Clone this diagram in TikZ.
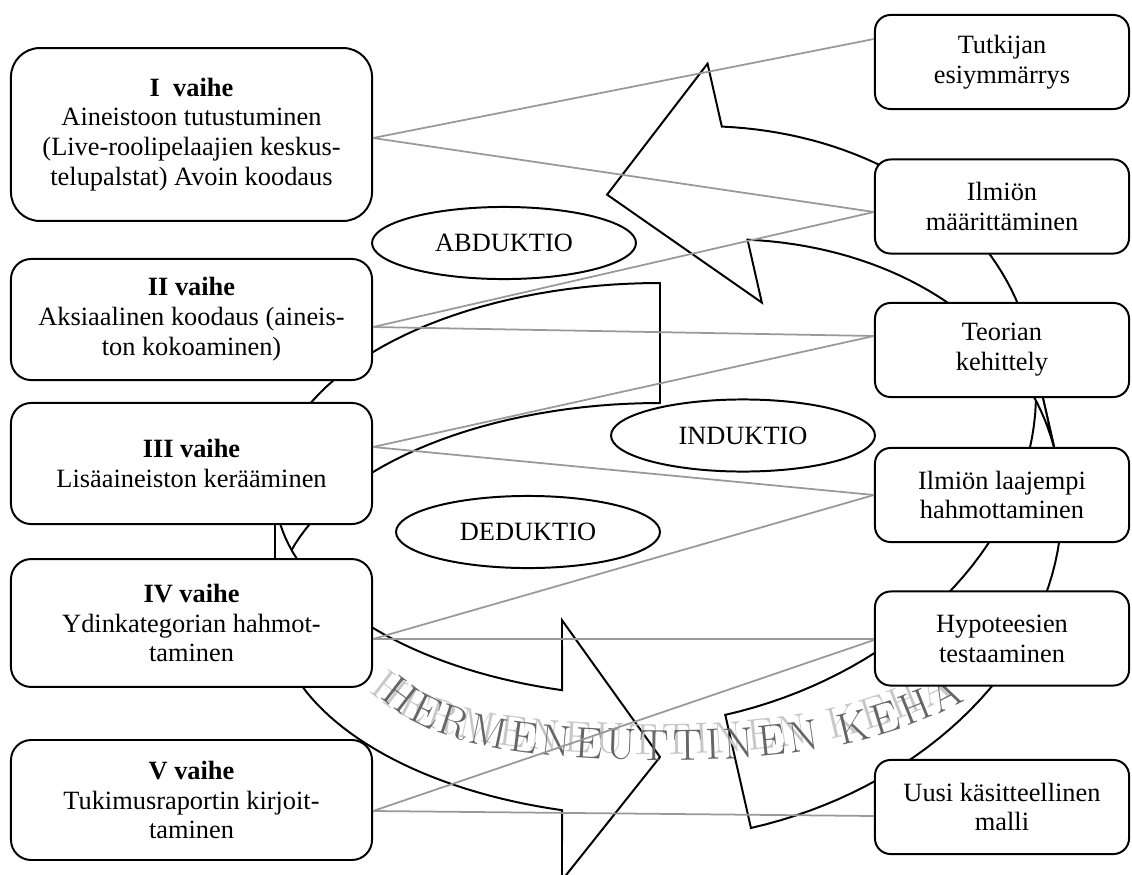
\documentclass[tikz,border=0pt]{standalone}
\usepackage{fontspec}
\newfontfamily\tnr{Liberation Serif}
\usetikzlibrary{shapes.geometric}
\usetikzlibrary{decorations.text}

\newcommand{\kehanuoli}[5]{%
  \pgfmathsetmacro\khr{#2/2-(#3+#4)/4}%
  \pgfmathsetmacro\kdy{\khr*sqrt(1-(#5/#1)^2)}%
  \pgfmathsetmacro\kal{180-acos(#5/#1)}%
  \pgfmathsetmacro\kyf{\khr+\kdy}%
  \pgfmathsetmacro\kdh{(#4-#3)/2}%
  \draw[nuoli] plot[domain=180:270] ({#1+#1*cos(\x)},{\khr+\khr*sin(\x)})
    -- plot[domain=270:180] ({#1+#1*cos(\x)},{\khr+#3+\khr*sin(\x)}) -- cycle;
  \draw[nuoli] plot[domain=180:\kal] ({#1+#1*cos(\x)},{\khr+\khr*sin(\x)})
    -- (#1-#5,\kyf-\kdh) -- (#1,#2-#4/2) -- (#1-#5,\kyf+#3+\kdh)
    -- plot[domain=\kal:180] ({#1+#1*cos(\x)},{\khr+#3+\khr*sin(\x)}) -- cycle;
}

\begin{document}
\begin{tikzpicture}[x=0.455pt, y=-0.455pt,
	nuoli/.style={draw, line width=0.9pt, fill=white, samples=40},
	laat/.style={draw, line width=0.9pt, fill=white, align=center, inner sep=0pt,
		font=\tnr\fontsize{12}{13.6}\selectfont},
	vaihe/.style={laat, minimum width=164.3pt, rounded corners=9.2pt},
	tulos/.style={laat, minimum width=115.6pt, minimum height=42.8pt, rounded corners=7.1pt},
	soik/.style={draw, ellipse, line width=0.9pt, fill=white, inner sep=0pt,
		minimum width=120.1pt, minimum height=32.8pt, font=\tnr\fontsize{12}{13.6}\selectfont},
	viiva/.style={draw=black!40, line width=0.8pt}]
	\useasboundingbox (0,0) rectangle (1132,875);
	\clip (0,0) rectangle (1132,875);
	\begin{scope}[shift={(275,283)}]
		\kehanuoli{385}{604}{120}{260}{98}
	\end{scope}
	\begin{scope}[shift={(1121.5,743.8)}, rotate=-167.2]
		\kehanuoli{380}{772}{116}{245}{127}
	\end{scope}
	\node[soik] (12) at (504,243) {ABDUKTIO};
	\node[soik] (13) at (743,435.5) {INDUKTIO};
	\node[soik] (14) at (528,532) {DEDUKTIO};
	\path[shift={(-11,-6)}, decorate, decoration={text along path, text color=black!22,
		text align={fit to path}, text={|\fontsize{20}{20}\selectfont|HERMENEUTTINEN KEHÄ}}]
		(380,697) .. controls (430,745) and (520,757) .. (640,760)
		.. controls (780,763) and (885,745) .. (965,700);
	\path[decorate, decoration={text along path, text color=black!60,
		text align={fit to path}, text={|\fontsize{20}{20}\selectfont|HERMENEUTTINEN KEHÄ}}]
		(380,697) .. controls (430,745) and (520,757) .. (640,760)
		.. controls (780,763) and (885,745) .. (965,700);
	\node[vaihe, minimum height=78.7pt, rounded corners=13.2pt] (1) at (191.5,134.5)
		{\textbf{I\ \ vaihe}\\Aineistoon tutustuminen\\(Live-roolipelaajien keskus-\\telupalstat) Avoin koodaus};
	\node[vaihe, minimum height=55.1pt] (2) at (191.5,319.5)
		{\textbf{II vaihe}\\Aksiaalinen koodaus (aineis-\\ton kokoaminen)};
	\node[vaihe, minimum height=55.1pt] (3) at (191.5,463.5)
		{\textbf{III vaihe}\\Lisäaineiston kerääminen};
	\node[vaihe, minimum height=58.2pt] (4) at (191.5,623)
		{\textbf{IV vaihe}\\Ydinkategorian hahmot-\\taminen};
	\node[vaihe, minimum height=54.6pt] (5) at (191.5,800)
		{\textbf{V vaihe}\\Tukimusraportin kirjoit-\\taminen};
	\node[tulos] (6) at (1002,62) {Tutkijan\\esiymmärrys};
	\node[tulos] (7) at (1002,206.5) {Ilmiön\\määrittäminen};
	\node[tulos] (8) at (1002,350) {Teorian\\kehittely};
	\node[tulos] (9) at (1002,495) {Ilmiön laajempi\\hahmottaminen};
	\node[tulos] (10) at (1002,638.5) {Hypoteesien\\testaaminen};
	\node[tulos] (11) at (1002,807) {Uusi käsitteellinen\\malli};
	\draw[viiva] (1.east |- 0,138) -- (6.west |- 0,39);
	\draw[viiva] (1.east |- 0,138) -- (7.west |- 0,212);
	\draw[viiva] (2.east |- 0,327) -- (7.west |- 0,212);
	\draw[viiva] (2.east |- 0,327) -- (8.west |- 0,336);
	\draw[viiva] (3.east |- 0,447) -- (8.west |- 0,336);
	\draw[viiva] (3.east |- 0,447) -- (9.west |- 0,495);
	\draw[viiva] (4.east |- 0,639) -- (9.west |- 0,495);
	\draw[viiva] (4.east |- 0,639) -- (10.west |- 0,639);
	\draw[viiva] (5.east |- 0,811) -- (10.west |- 0,640);
	\draw[viiva] (5.east |- 0,811) -- (11.west |- 0,816);
\end{tikzpicture}
\end{document}
